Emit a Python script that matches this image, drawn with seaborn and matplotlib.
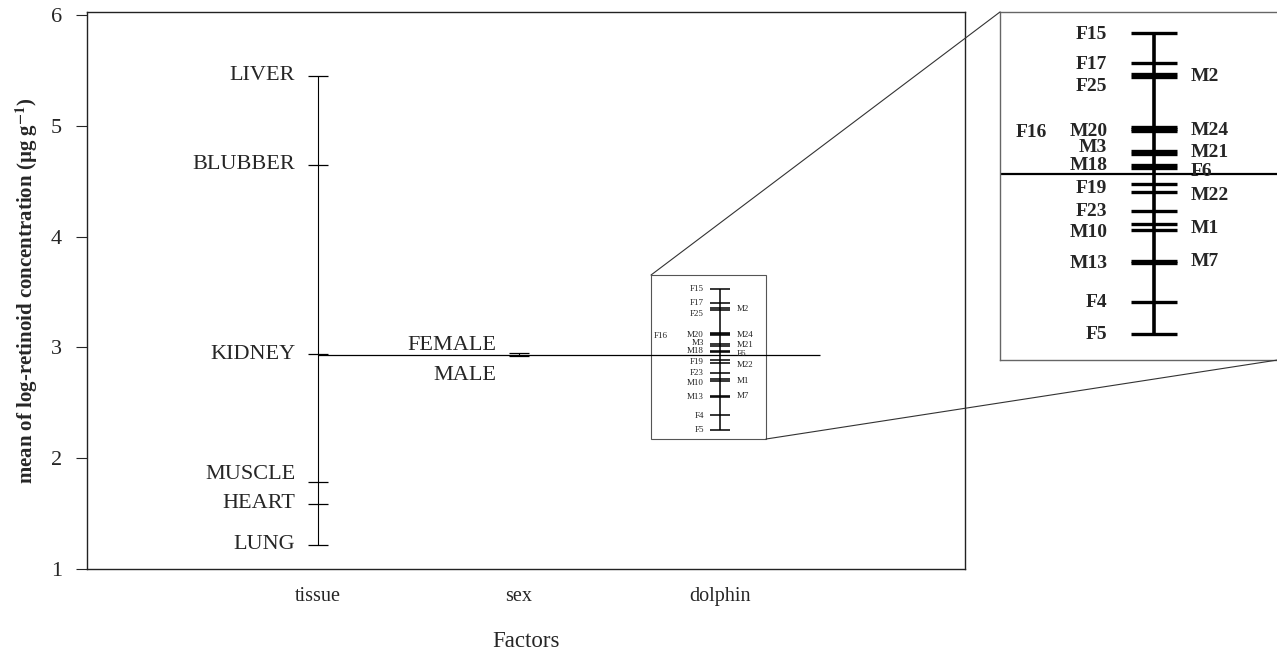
import seaborn as sns
import matplotlib.pyplot as plt
import pandas as pd
from matplotlib.patches import Rectangle, ConnectionPatch

# factor level means
tissue_levels = ['LIVER', 'BLUBBER', 'KIDNEY', 'MUSCLE', 'HEART', 'LUNG']
tissue_means = [5.45, 4.65, 2.94, 1.785, 1.587, 1.217]
tissue_label_y = [5.45, 4.65, 2.94, 1.85, 1.587, 1.217]

sex_levels = ['FEMALE', 'MALE']
sex_means = [2.952, 2.922]
sex_label_y = [3.02, 2.75]

dolphin_ids = ['F15', 'F17', 'F25', 'M2', 'F16', 'M20', 'M24', 'M3', 'M21', 'M18',
               'F6', 'F19', 'M22', 'F23', 'M1', 'M10', 'M13', 'M7', 'F4', 'F5']
dolphin_means = [3.530, 3.400, 3.354, 3.342, 3.122, 3.129, 3.115, 3.027, 3.015, 2.968,
                 2.956, 2.888, 2.855, 2.773, 2.718, 2.693, 2.562, 2.556, 2.388, 2.255]
dolphin_label_y = [3.524, 3.397, 3.304, 3.343, 3.106, 3.110, 3.115, 3.043, 3.021, 2.969,
                   2.941, 2.868, 2.842, 2.773, 2.701, 2.682, 2.553, 2.560, 2.385, 2.252]
dolphin_side = ['L', 'L', 'L', 'R', 'LL', 'L', 'R', 'L', 'R', 'L',
                'R', 'L', 'R', 'L', 'R', 'L', 'L', 'R', 'L', 'L']

grand_mean = 2.932
factors = ['tissue', 'sex', 'dolphin']

sns.set_theme(style='ticks')
plt.rcParams['font.family'] = ['Liberation Serif', 'DejaVu Serif']
plt.rcParams['mathtext.fontset'] = 'stix'

fpos = {f: i + 1 for i, f in enumerate(factors)}
df = pd.concat([
    pd.DataFrame({'factor': 'tissue', 'level': tissue_levels, 'mean': tissue_means, 'label_y': tissue_label_y}),
    pd.DataFrame({'factor': 'sex', 'level': sex_levels, 'mean': sex_means, 'label_y': sex_label_y}),
    pd.DataFrame({'factor': 'dolphin', 'level': dolphin_ids, 'mean': dolphin_means,
                  'label_y': dolphin_label_y, 'side': dolphin_side}),
], ignore_index=True)
df['x'] = df['factor'].map(fpos)

fig = plt.figure(figsize=(12.77, 6.5), dpi=100)
ax = fig.add_axes([0.0681, 0.1246, 0.6876, 0.8569])

# tissue and sex: thin ticks
main = df[df['factor'] != 'dolphin']
for f, d in main.groupby('factor'):
    ax.vlines(fpos[f], d['mean'].min(), d['mean'].max(), color='black', lw=0.8)
sns.scatterplot(data=main, x='x', y='mean', marker='_', s=225, color='black',
                linewidth=0.9, ax=ax, legend=False)
for _, r in main.iterrows():
    ax.text(r['x'] - 0.114, r['label_y'], r['level'], ha='right', va='center', fontsize=16)

ax.hlines(grand_mean, 1, 3.5, color='black', lw=0.9)

# dolphin: small version inside the main axes
dol = df[df['factor'] == 'dolphin']
ax.vlines(3, dol['mean'].min(), dol['mean'].max(), color='black', lw=1.1)
sns.scatterplot(data=dol, x='x', y='mean', marker='_', s=207, color='black',
                linewidth=1.1, ax=ax, legend=False)
offs_small = {'L': -0.08, 'LL': -0.26, 'R': 0.085}
for _, r in dol.iterrows():
    ax.text(3 + offs_small[r['side']], r['label_y'], r['level'],
            ha='left' if r['side'] == 'R' else 'right', va='center', fontsize=6.5)
ax.add_patch(Rectangle((2.657, 2.173), 0.572, 1.48, fill=False, ec='#555555', lw=0.8))

ax.set_xlim(-0.15, 4.22)
ax.set_ylim(1, 6.027)
ax.set_yticks([1, 2, 3, 4, 5, 6])
ax.set_xticks([1, 2, 3], factors)
ax.tick_params(axis='x', length=0, pad=13, labelsize=14.5)
ax.tick_params(axis='y', length=8, width=0.8, labelsize=16, pad=10)
ax.set_xlabel('Factors', fontsize=16.5, labelpad=18)
ax.set_ylabel('mean of log-retinoid concentration (µg g$^{\\mathbf{-1}}$)',
              fontsize=15, fontweight='bold', labelpad=8)
for s in ax.spines.values():
    s.set_linewidth(1.0)
    s.set_color('#222222')

# magnified dolphin panel
ax2 = fig.add_axes([0.7831, 0.4462, 0.2175, 0.5354])
ax2.vlines(3, dol['mean'].min(), dol['mean'].max(), color='black', lw=2.6)
sns.scatterplot(data=dol, x='x', y='mean', marker='_', s=1050, color='black',
                linewidth=2.4, ax=ax2, legend=False)
offs_big = {'L': -0.103, 'LL': -0.237, 'R': 0.081}
for _, r in dol.iterrows():
    ax2.text(3 + offs_big[r['side']], r['label_y'], r['level'],
             ha='left' if r['side'] == 'R' else 'right', va='center',
             fontsize=14, fontweight='bold')
ax2.axhline(grand_mean, color='black', lw=1.6)
ax2.set_xlim(2.659, 3.275)
ax2.set_ylim(2.143, 3.618)
ax2.set_xticks([])
ax2.set_yticks([])
ax2.set_xlabel('')
ax2.set_ylabel('')
ax2.spines['right'].set_visible(False)
for s in ['left', 'top', 'bottom']:
    ax2.spines[s].set_color('#666666')
    ax2.spines[s].set_linewidth(1.0)

# zoom connector lines
c1 = ConnectionPatch(xyA=(2.657, 3.653), coordsA=ax.transData,
                     xyB=(0, 1), coordsB=ax2.transAxes, color='#333333', lw=0.8)
c2 = ConnectionPatch(xyA=(3.229, 2.173), coordsA=ax.transData,
                     xyB=(1, 0), coordsB=ax2.transAxes, color='#333333', lw=0.8)
fig.add_artist(c1)
fig.add_artist(c2)

plt.savefig('out.png', dpi=100)
